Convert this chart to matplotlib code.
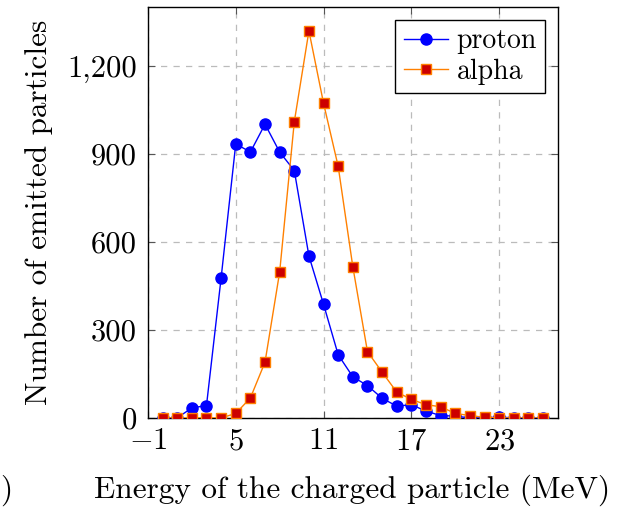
import matplotlib.pyplot as plt
import matplotlib
from matplotlib.ticker import FuncFormatter

matplotlib.rcParams['font.family'] = 'serif'
matplotlib.rcParams['font.serif'] = ['cmr10']
matplotlib.rcParams['mathtext.fontset'] = 'cm'
matplotlib.rcParams['axes.formatter.use_mathtext'] = True

# データ
energy = list(range(0, 27))
proton = [0, 0, 34, 42, 477, 934, 906, 1001, 906, 843, 552, 387, 215, 140,
          110, 67, 40, 45, 23, 8, 6, 0, 0, 3, 0, 0, 0]
alpha = [0, 0, 0, 0, 0, 15, 68, 190, 497, 1009, 1319, 1072, 857, 515,
         226, 156, 88, 63, 45, 38, 15, 8, 2, 0, 0, 0, 0]
xticks = [-1, 5, 11, 17, 23]
yticks = [0, 300, 600, 900, 1200]

fig = plt.figure(figsize=(6.19, 5.09), dpi=100)
ax = fig.add_axes([0.239, 0.179, 0.662, 0.807])

ax.plot(energy, proton, color='#0000ff', lw=1, marker='o', ms=8,
        mfc='#0000ff', mec='#0000ff', label='proton', zorder=3)
ax.plot(energy, alpha, color='#ff8000', lw=1, marker='s', ms=7.5,
        mfc='#cc0000', mec='#ff8000', mew=1, label='alpha', zorder=4)

ax.set_xlim(-1, 27)
ax.set_ylim(0, 1400)
ax.set_xticks(xticks)
ax.set_yticks(yticks)
ax.yaxis.set_major_formatter(FuncFormatter(lambda v, p: f'{int(v):,}'))
ax.tick_params(direction='in', top=True, right=True, labelsize=22, length=5,
               width=0.8, color='#555555')
ax.tick_params(axis='y', pad=8)
ax.tick_params(axis='x', pad=7)
ax.grid(True, linestyle=(0, (5, 5)), color='#bbbbbb', lw=0.9)
ax.set_axisbelow(True)
for s in ax.spines.values():
    s.set_linewidth(1)

ax.set_ylabel('Number of emitted particles', fontsize=22.5, labelpad=10)
fig.text(0.569, 0.022, 'Energy of the charged particle (MeV)', fontsize=22.5,
         ha='center', va='baseline')
fig.text(0.0, 0.022, ')', fontsize=22.5, ha='left', va='baseline')

leg = ax.legend(loc='upper right', fontsize=20, frameon=True, fancybox=False,
                edgecolor='black', framealpha=1, handlelength=1.6,
                borderpad=0.3, labelspacing=0.15, handletextpad=0.3,
                borderaxespad=0.45)
leg.get_frame().set_linewidth(1)

plt.savefig('out.png', dpi=100)
